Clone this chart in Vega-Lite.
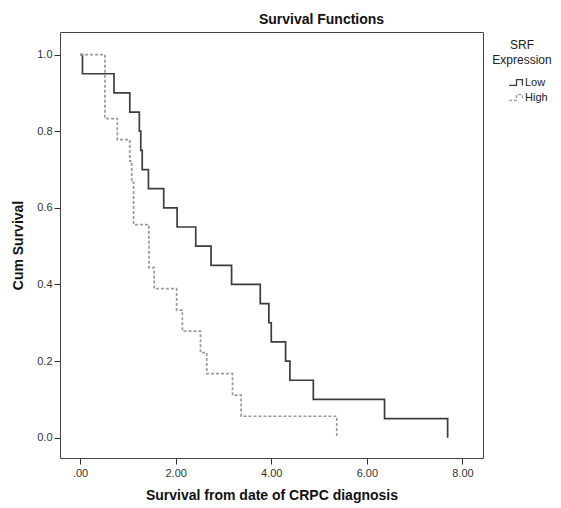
{
  "$schema": "https://vega.github.io/schema/vega-lite/v6.json",
  "width": 423,
  "height": 426,
  "autosize": {"type": "none"},
  "padding": {"left": 60, "top": 32, "right": 78, "bottom": 50},
  "background": "white",
  "title": {
    "text": "Survival Functions",
    "font": "Liberation Sans",
    "fontSize": 14,
    "fontWeight": "bold",
    "color": "#111",
    "anchor": "middle",
    "dx": 50,
    "offset": 5
  },
  "config": {
    "view": {"stroke": "#444", "strokeWidth": 1},
    "axis": {
      "domain": false,
      "grid": false,
      "ticks": true,
      "tickColor": "#333",
      "tickSize": 6,
      "labelFont": "Liberation Sans",
      "labelFontSize": 11,
      "labelColor": "#333",
      "titleFont": "Liberation Sans",
      "titleFontSize": 14,
      "titleFontWeight": "bold",
      "titleColor": "#111"
    }
  },
  "data": {
    "values": [
      {"group": "Low", "time": 0, "surv": 1.0},
      {"group": "Low", "time": 0.05, "surv": 0.95},
      {"group": "Low", "time": 0.71, "surv": 0.90},
      {"group": "Low", "time": 1.04, "surv": 0.85},
      {"group": "Low", "time": 1.24, "surv": 0.80},
      {"group": "Low", "time": 1.27, "surv": 0.75},
      {"group": "Low", "time": 1.30, "surv": 0.70},
      {"group": "Low", "time": 1.43, "surv": 0.65},
      {"group": "Low", "time": 1.75, "surv": 0.60},
      {"group": "Low", "time": 2.03, "surv": 0.55},
      {"group": "Low", "time": 2.42, "surv": 0.50},
      {"group": "Low", "time": 2.74, "surv": 0.45},
      {"group": "Low", "time": 3.17, "surv": 0.40},
      {"group": "Low", "time": 3.77, "surv": 0.35},
      {"group": "Low", "time": 3.95, "surv": 0.30},
      {"group": "Low", "time": 4.00, "surv": 0.25},
      {"group": "Low", "time": 4.30, "surv": 0.20},
      {"group": "Low", "time": 4.39, "surv": 0.15},
      {"group": "Low", "time": 4.88, "surv": 0.10},
      {"group": "Low", "time": 6.37, "surv": 0.05},
      {"group": "Low", "time": 7.69, "surv": 0.0},
      {"group": "High", "time": 0, "surv": 1.0},
      {"group": "High", "time": 0.52, "surv": 0.833},
      {"group": "High", "time": 0.78, "surv": 0.778},
      {"group": "High", "time": 1.04, "surv": 0.722},
      {"group": "High", "time": 1.08, "surv": 0.667},
      {"group": "High", "time": 1.12, "surv": 0.556},
      {"group": "High", "time": 1.44, "surv": 0.444},
      {"group": "High", "time": 1.55, "surv": 0.389},
      {"group": "High", "time": 2.02, "surv": 0.333},
      {"group": "High", "time": 2.14, "surv": 0.278},
      {"group": "High", "time": 2.52, "surv": 0.222},
      {"group": "High", "time": 2.65, "surv": 0.167},
      {"group": "High", "time": 3.19, "surv": 0.111},
      {"group": "High", "time": 3.37, "surv": 0.056},
      {"group": "High", "time": 5.37, "surv": 0.0}
    ]
  },
  "mark": {"type": "line", "interpolate": "step-after", "strokeWidth": 1.7},
  "encoding": {
    "x": {
      "field": "time",
      "type": "quantitative",
      "scale": {"domain": [-0.42, 8.43], "nice": false, "zero": false},
      "axis": {
        "title": "Survival from date of CRPC diagnosis",
        "values": [0, 2, 4, 6, 8],
        "labelExpr": "datum.value === 0 ? '.00' : format(datum.value, '.2f')",
        "labelPadding": 3,
        "titlePadding": 10
      }
    },
    "y": {
      "field": "surv",
      "type": "quantitative",
      "scale": {"domain": [-0.053, 1.059], "nice": false, "zero": false},
      "axis": {
        "title": "Cum Survival",
        "values": [0, 0.2, 0.4, 0.6, 0.8, 1.0],
        "format": ".1f",
        "labelPadding": 2,
        "titlePadding": 11
      }
    },
    "color": {
      "field": "group",
      "type": "nominal",
      "scale": {"domain": ["Low", "High"], "range": ["#3c3c3c", "#9a9a9a"]},
      "legend": {
        "title": ["SRF", "Expression"],
        "orient": "none",
        "legendX": 432,
        "legendY": 8,
        "padding": 0,
        "titleFont": "Liberation Sans",
        "titleFontSize": 12,
        "titleFontWeight": "normal",
        "titleColor": "#222",
        "titleAnchor": "middle",
        "titleAlign": "center",
        "titleLineHeight": 15,
        "titlePadding": 7,
        "labelFont": "Liberation Sans",
        "labelFontSize": 11,
        "labelColor": "#222",
        "labelOffset": 0,
        "symbolOffset": 11,
        "symbolType": "M-1,0.4L0,0.4L0,-0.4L0.8,-0.4L0.8,0.4",
        "symbolSize": 220,
        "symbolStrokeWidth": 1.3,
        "symbolFillColor": "transparent",
        "rowPadding": 0
      }
    },
    "strokeDash": {
      "field": "group",
      "type": "nominal",
      "scale": {"domain": ["Low", "High"], "range": [[1, 0], [3, 2]]},
      "legend": null
    }
  }
}
